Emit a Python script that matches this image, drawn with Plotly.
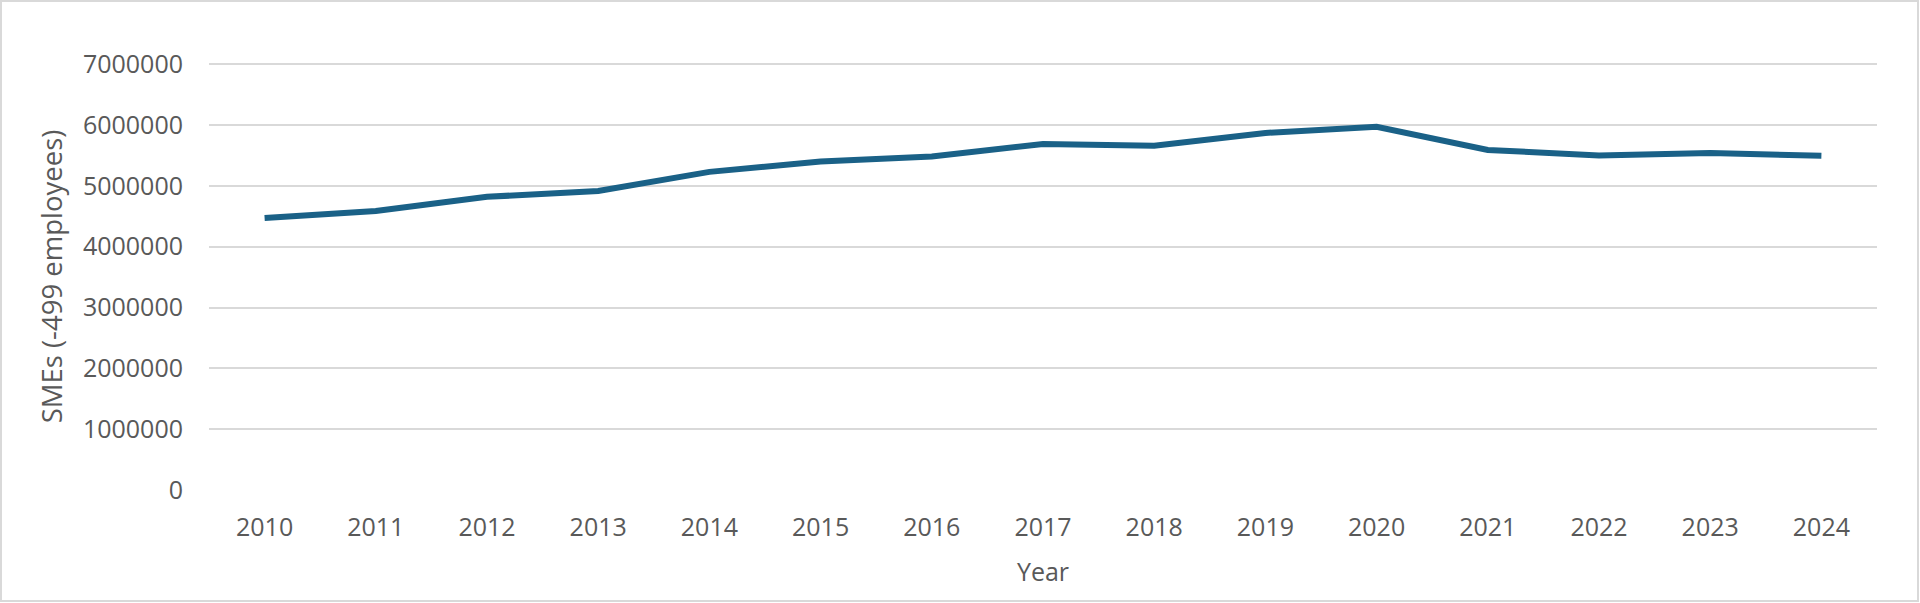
import plotly.graph_objects as go

years = ["2010", "2011", "2012", "2013", "2014", "2015", "2016", "2017",
         "2018", "2019", "2020", "2021", "2022", "2023", "2024"]
smes = [4470000, 4586000, 4820000, 4915000, 5230000, 5400000, 5483000, 5690000,
        5660000, 5870000, 5970000, 5590000, 5500000, 5540000, 5496000]
y_ticks = [0, 1000000, 2000000, 3000000, 4000000, 5000000, 6000000, 7000000]

W, H = 1920, 603
ML, MR, MT, MB = 209, 43, 63, 113
FONT = "Open Sans"
GREY = "#595959"
FS = 25

fig = go.Figure()
fig.add_trace(go.Scatter(
    x=years, y=smes, mode="lines",
    line=dict(color="#1a6187", width=6),
    showlegend=False, hoverinfo="x+y",
))

pw = W - ML - MR
ph = H - MT - MB
fig.add_shape(type="rect", xref="paper", yref="paper",
              x0=(1 - ML) / pw, x1=(W - 2 - ML) / pw,
              y0=-(MB - 2) / ph, y1=1 + (MT - 1) / ph,
              line=dict(color="#d9d9d9", width=2), fillcolor="rgba(0,0,0,0)", layer="below")

fig.update_layout(
    width=W, height=H,
    margin=dict(l=ML, r=MR, t=MT, b=MB),
    paper_bgcolor="white", plot_bgcolor="white",
    font=dict(family=FONT, color=GREY, size=FS),
    xaxis=dict(
        type="category", range=[-0.5, len(years) - 0.5],
        showgrid=False, zeroline=False, showline=False,
        ticks="outside", ticklen=15, tickcolor="rgba(0,0,0,0)",
        tickfont=dict(size=FS, color=GREY, family=FONT),
        title=dict(text="Year", font=dict(size=FS, color=GREY, family=FONT), standoff=21),
    ),
    yaxis=dict(
        range=[0, 7020000], tickvals=y_ticks, ticktext=[str(v) for v in y_ticks],
        showgrid=True, gridcolor="#d9d9d9", gridwidth=2,
        zeroline=False, showline=False,
        ticks="outside", ticklen=20, tickcolor="rgba(0,0,0,0)",
        tickfont=dict(size=FS, color=GREY, family=FONT),
        title=dict(text="SMEs (-499 employees)", font=dict(size=27.5, color=GREY, family=FONT), standoff=12),
    ),
)

fig.write_html("out.html", config={"displayModeBar": False},
               post_script="document.body.style.margin='0';document.body.style.overflow='hidden';")
